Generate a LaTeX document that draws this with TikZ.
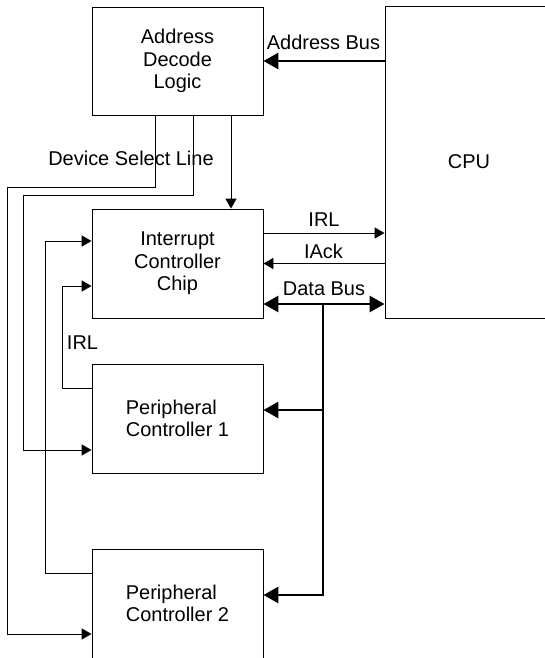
\documentclass[tikz,border=0pt]{standalone}
\usepackage{fontspec}
\setmainfont{Liberation Sans}
\usetikzlibrary{arrows.meta}

\begin{document}
\begin{tikzpicture}[
  font=\fontsize{14.2}{16}\selectfont,
  unit/.style={draw, line width=0.7pt, inner sep=0pt, minimum width=4.275cm, minimum height=2.725cm, align=center},
  wire/.style={line width=0.7pt},
  thin tip/.style={-{Triangle[length=0.25cm,width=0.28cm]}},
  bus/.style={line width=1.8pt},
  bus tip/.style={-{Triangle[length=0.37cm,width=0.4cm]}},
  bus both/.style={{Triangle[length=0.37cm,width=0.4cm]}-{Triangle[length=0.37cm,width=0.4cm]}}
]

\useasboundingbox (0,0) rectangle (13.625,-16.45);

\node[unit, minimum height=2.7cm] (adl) at (4.4375,-1.525) {Address\\Decode\\Logic};
\node[unit, minimum width=4.2cm, minimum height=7.8cm] (cpu) at (11.725,-4.05) {CPU};
\node[unit] (icc) at (4.4375,-6.5875) {Interrupt\\Controller\\Chip};
\node[unit, align=left] (pc1) at (4.4375,-10.4625) {Peripheral\\Controller 1};
\node[unit, align=left] (pc2) at (4.4375,-15.0875) {Peripheral\\Controller 2};

\node (abus) at (8.0875,-1.05) {Address Bus};
\node (dsl) at (3.275,-3.95) {Device Select Line};
\node (irlcpu) at (8.1,-5.5) {IRL};
\node (iack) at (8.0875,-6.275) {IAck};
\node (dbus) at (8.1,-7.2125) {Data Bus};
\node (irlpc) at (2.0625,-8.5625) {IRL};

\coordinate (dsla) at (0.175,-4.675);
\coordinate (dslb) at (0.575,-4.875);
\coordinate (irla) at (1.125,-6.025);
\coordinate (irlb) at (1.55,-7.15);
\coordinate (dbv) at (8.075,0);

\draw[bus,bus tip] (cpu.west |- adl.east) -- (adl.east);

\draw[wire,thin tip] ([xshift=-0.5625cm]adl.south) |- (dsla) |- ([yshift=-0.7625cm]pc2.west);
\draw[wire,thin tip] ([xshift=0.3875cm]adl.south) |- (dslb) |- ([yshift=-0.7875cm]pc1.west);
\draw[wire,thin tip] ([xshift=1.3375cm]adl.south) -- ([xshift=1.3375cm]icc.north);

\draw[wire,thin tip] ([yshift=0.7625cm]pc2.west) -| (irla) -- ([yshift=0.5625cm]icc.west);
\draw[wire,thin tip] ([yshift=0.7625cm]pc1.west) -| (irlb) -- ([yshift=-0.5625cm]icc.west);

\coordinate (irlout) at ([yshift=0.7625cm]icc.east);
\coordinate (dbout) at ([yshift=-1.0125cm]icc.east);
\coordinate (pc1in) at ([yshift=0.2125cm]pc1.east);
\coordinate (pc2in) at ([yshift=0.2125cm]pc2.east);

\draw[wire,thin tip] (irlout) -- (irlout -| cpu.west);
\draw[wire,thin tip] (cpu.west |- icc.east) -- (icc.east);
\draw[bus,bus both] (dbout) -- (dbout -| cpu.west);

\draw[bus,bus tip] (dbv |- dbout) |- (pc2in);
\draw[bus,bus tip] (dbv |- pc1in) -- (pc1in);
\end{tikzpicture}
\end{document}
